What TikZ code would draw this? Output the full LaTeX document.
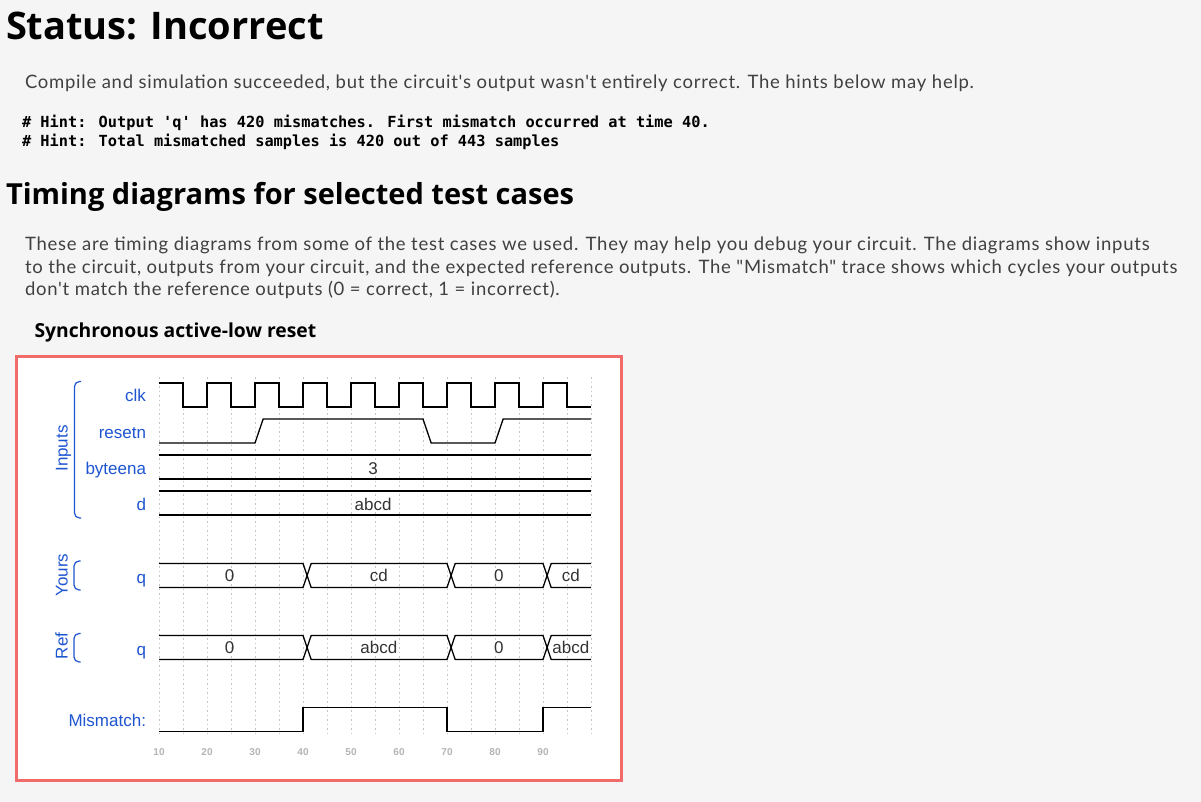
\documentclass[tikz,border=0pt]{standalone}
\usepackage{fontspec}
\setmainfont{Lato}
\newfontfamily\bodyfont{Lato}[LetterSpace=4]
\newfontfamily\headfont{Open Sans}
\newfontfamily\wavefont{Liberation Sans}
\newfontfamily\hintfont{DejaVu Sans Mono}
\definecolor{pagebg}{HTML}{F5F5F5}
\definecolor{boxred}{HTML}{F26B6B}
\definecolor{sigblue}{HTML}{1E55D0}
\definecolor{bodygray}{HTML}{404040}
\definecolor{gridgray}{HTML}{C4C4C4}
\definecolor{numgray}{HTML}{B4B4B4}

\begin{document}
\begin{tikzpicture}[x=1pt, y=-1pt]
  \tikzset{every node/.style={inner sep=0pt, outer sep=0pt},
           heading/.style={anchor=base west, font=\headfont\bfseries},
           body/.style={anchor=base west, text=bodygray, font=\bodyfont\fontsize{18.5}{22}\selectfont},
           hint/.style={anchor=base west, font=\hintfont\bfseries\fontsize{15.3}{18}\selectfont},
           signame/.style={anchor=base east, text=sigblue, font=\wavefont\fontsize{17}{20}\selectfont},
           grouplabel/.style={anchor=base, rotate=90, text=sigblue, font=\wavefont\fontsize{17}{20}\selectfont},
           busval/.style={anchor=base, text=black!80, font=\wavefont\fontsize{17}{20}\selectfont},
           ticknum/.style={anchor=base, text=numgray, font=\wavefont\bfseries\fontsize{10}{12}\selectfont},
           wave/.style={line width=1.3pt, line join=miter},
           brace/.style={sigblue, line width=1.2pt, rounded corners=5pt},
           gridline/.style={gridgray, line width=0.8pt, dash pattern=on 1.5pt off 3pt}}
  \useasboundingbox (0,0) rectangle (1201,802);
  \fill[pagebg] (0,0) rectangle (1201,802);

  \node[heading, font=\headfont\bfseries\fontsize{38}{44}\selectfont] (status) at (6,40) {Status: Incorrect};
  \node[body] (compile) at (25,89) {Compile and simulation succeeded, but the circuit's output wasn't entirely correct. The hints below may help.};
  \node[hint] (hint1) at (22,128) {\# Hint: Output \textquotesingle q\textquotesingle\ has 420 mismatches. First mismatch occurred at time 40.};
  \node[hint] (hint2) at (22,147) {\# Hint: Total mismatched samples is 420 out of 443 samples};
  \node[heading, font=\headfont\bfseries\fontsize{29}{34}\selectfont] (timing) at (6,205) {Timing diagrams for selected test cases};
  \node[body] (para1) at (25,251) {These are timing diagrams from some of the test cases we used. They may help you debug your circuit. The diagrams show inputs};
  \node[body] (para2) at (25,273) {to the circuit, outputs from your circuit, and the expected reference outputs. The "Mismatch" trace shows which cycles your outputs};
  \node[body] (para3) at (25,295) {don't match the reference outputs (0 = correct, 1 = incorrect).};
  \node[heading, font=\headfont\bfseries\fontsize{19.3}{23}\selectfont] (synctitle) at (34.5,337) {Synchronous active-low reset};

  \draw[boxred, line width=2.6pt, fill=white] (16.3,356.3) rectangle (621.7,780.7);

  \node[signame] (clk) at (146,401.5) {clk};
  \node[signame] (resetn) at (146,438) {resetn};
  \node[signame] (byteena) at (146,474) {byteena};
  \node[signame] (d) at (146,510) {d};
  \node[signame] (yoursq) at (146,583) {q};
  \node[signame] (refq) at (146,655) {q};
  \node[signame] (mismatch) at (146,726) {Mismatch:};

  \node[grouplabel] (inputs) at (67.5,448.5) {Inputs};
  \node[grouplabel] (yours) at (67.5,575) {Yours};
  \node[grouplabel] (ref) at (67.5,646) {Ref};
  \draw[brace] (81,381.5) -- (74.5,381.5) -- (74.5,518) -- (81,518);
  \draw[brace] (80.5,561) -- (74,561) -- (74,590) -- (80.5,590);
  \draw[brace] (80.5,633.5) -- (74,633.5) -- (74,662) -- (80.5,662);

  \begin{scope}[xshift=111pt, x=4.8pt]
    \foreach \t in {10,15,...,100}
      \draw[gridline] (\t,377) -- (\t,734);
    \foreach \t in {10,20,...,90}
      \node[ticknum] (num\t) at (\t,755.5) {\t};

    \draw[wave] (10,383) foreach \t in {15,25,...,85} { -- (\t,383) -- (\t,407) -- (\t+5,407) -- (\t+5,383) }
      -- (95,383) -- (95,407) -- (100,407);
    \draw[wave] (10,443) -- (30,443) -- (31.7,419) -- (65,419) -- (66.7,443) -- (80,443) -- (81.7,419) -- (100,419);
    \foreach \c in {467,503} {
      \draw[wave] (10,\c-12) -- (100,\c-12);
      \draw[wave] (10,\c+12) -- (100,\c+12);
    }
    \node[busval] (byteval) at (54.6,474) {3};
    \node[busval] (dval) at (54.6,510) {abcd};

    \foreach \c in {575.5,647.5} {
      \draw[wave] (10,\c-12) -- (40,\c-12) -- (40.85,\c) -- (40,\c+12) -- (10,\c+12);
      \draw[wave] (40.85,\c) -- (41.7,\c-12) -- (70,\c-12) -- (70.85,\c) -- (70,\c+12) -- (41.7,\c+12) -- cycle;
      \draw[wave] (70.85,\c) -- (71.7,\c-12) -- (90,\c-12) -- (90.85,\c) -- (90,\c+12) -- (71.7,\c+12) -- cycle;
      \draw[wave] (100,\c-12) -- (91.7,\c-12) -- (90.85,\c) -- (91.7,\c+12) -- (100,\c+12);
    }
    \node[busval] (yours0) at (24.7,581.7) {0};
    \node[busval] (yourscd) at (55.8,581.7) {cd};
    \node[busval] (yours0b) at (80.8,581.7) {0};
    \node[busval] (yourscdb) at (95.8,581.7) {cd};
    \node[busval] (ref0) at (24.7,653.7) {0};
    \node[busval] (refabcd) at (55.8,653.7) {abcd};
    \node[busval] (ref0b) at (80.8,653.7) {0};
    \node[busval] (refabcdb) at (95.8,653.7) {abcd};

    \draw[wave] (10,731.5) -- (40,731.5) -- (40,707.5) -- (70,707.5) -- (70,731.5) -- (90,731.5) -- (90,707.5) -- (100,707.5);
  \end{scope}
\end{tikzpicture}
\end{document}
